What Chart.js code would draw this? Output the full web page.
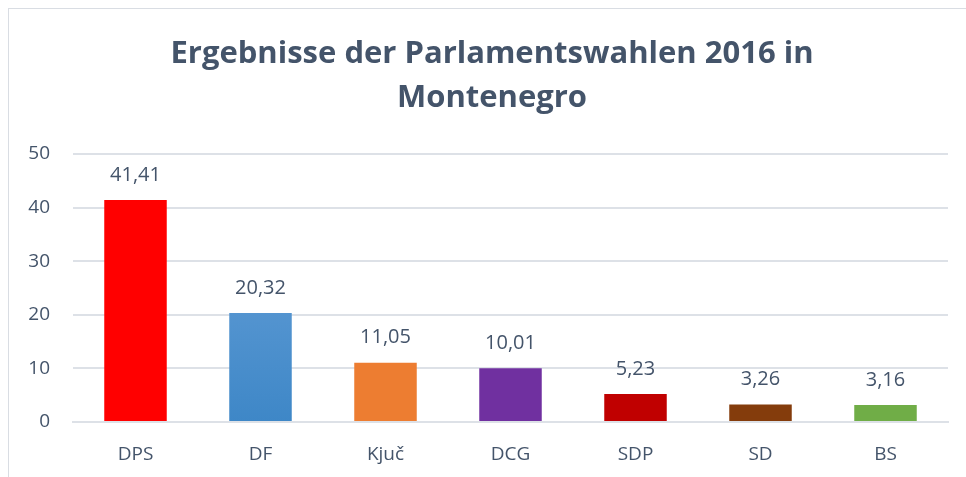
<!DOCTYPE html>
<html>
<head>
<meta charset="utf-8">
<script src="https://cdn.jsdelivr.net/npm/chart.js@4"></script>
<style>
  html, body { margin: 0; padding: 0; background: #fff; overflow: hidden; }
  #frame {
    position: absolute;
    left: 8px;
    top: 8px;
    width: 958px;
    height: 469px;
    border-top: 1px solid #d9dde3;
    border-left: 1px solid #d9dde3;
  }
  #chart { display: block; }
</style>
</head>
<body>
<div id="frame">
  <canvas id="chart" width="957" height="468"></canvas>
</div>
<script>
const parties = ["DPS", "DF", "Kjuč", "DCG", "SDP", "SD", "BS"];
const results = [41.41, 20.32, 11.05, 10.01, 5.23, 3.26, 3.16];
const yTicks = [0, 10, 20, 30, 40, 50];

const textColor = "#44546a";
const gridColor = "#dde1e7";

const barColors = ["#ff0000", null, "#ed7d31", "#7030a0", "#c00000", "#843c0c", "#70ad47"];

function barColor(ctx) {
  const c = barColors[ctx.dataIndex];
  if (c) return c;
  const area = ctx.chart.chartArea;
  if (!area) return "#5b9bd5";
  const el = ctx.chart.getDatasetMeta(0).data[ctx.dataIndex];
  const top = el && el.y ? el.y : area.top;
  const g = ctx.chart.ctx.createLinearGradient(0, top, 0, area.bottom);
  g.addColorStop(0, "#72a7dd");
  g.addColorStop(1, "#3e87c7");
  return g;
}

const valueLabels = {
  id: "valueLabels",
  afterLayout(chart) {
    // the title sits centred on the whole frame, not on the area right of the axis
    chart.titleBlock.left += 27;
  },
  afterDatasetsDraw(chart) {
    const ctx = chart.ctx;
    ctx.save();
    ctx.font = "20px 'Open Sans', sans-serif";
    ctx.fillStyle = textColor;
    ctx.textAlign = "center";
    ctx.textBaseline = "middle";
    chart.getDatasetMeta(0).data.forEach((bar, i) => {
      ctx.fillText(results[i].toFixed(2).replace(".", ","), bar.x, bar.y - 25);
    });
    ctx.restore();
  }
};

new Chart(document.getElementById("chart"), {
  type: "bar",
  data: {
    labels: parties,
    datasets: [
      {
        data: results,
        backgroundColor: barColor,
        categoryPercentage: 1,
        barPercentage: 0.5
      }
    ]
  },
  options: {
    responsive: false,
    animation: false,
    layout: {
      padding: { left: 0, right: 18, top: 0, bottom: 0 }
    },
    plugins: {
      legend: { display: false },
      tooltip: { enabled: false },
      title: {
        display: true,
        text: ["Ergebnisse der Parlamentswahlen 2016 in", "Montenegro"],
        color: textColor,
        font: { family: "'Open Sans', sans-serif", size: 31, weight: "bold", lineHeight: 1.42 },
        padding: { top: 23, bottom: 34 }
      }
    },
    scales: {
      x: {
        grid: { display: false, drawTicks: false },
        border: { color: gridColor, width: 2 },
        ticks: {
          color: textColor,
          font: { family: "'Open Sans', sans-serif", size: 19 },
          padding: 21
        },
        afterFit(scale) { scale.height = 55; }
      },
      y: {
        min: 0,
        max: 50,
        afterBuildTicks(scale) {
          scale.ticks = yTicks.map(v => ({ value: v }));
        },
        grid: { color: gridColor, lineWidth: 2, drawTicks: false },
        border: { display: false },
        ticks: {
          color: textColor,
          font: { family: "'Open Sans', sans-serif", size: 19 },
          padding: 23
        },
        afterFit(scale) { scale.width = 64; }
      }
    }
  },
  plugins: [valueLabels]
});
</script>
</body>
</html>
